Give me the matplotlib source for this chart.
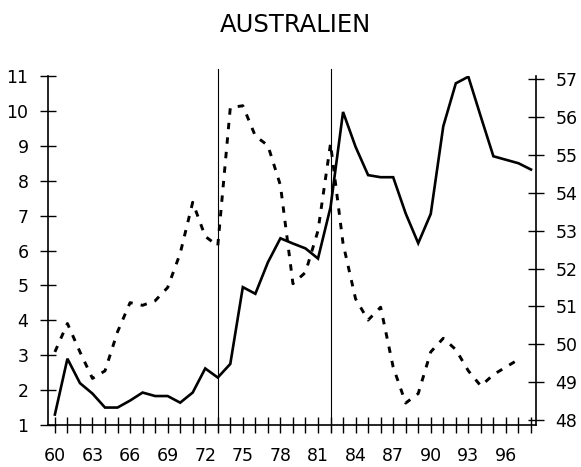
import matplotlib
matplotlib.use("Agg")
import matplotlib.pyplot as plt
import numpy as np

# Data
years_solid = list(range(60, 99))
solid_values = [1.3, 2.9, 2.2, 1.9, 1.5, 1.5, 1.7, 1.93, 1.83, 1.83,
                1.64, 1.93, 2.62, 2.36, 2.75, 4.95, 4.76, 5.66, 6.35, 6.2,
                6.06, 5.77, 7.24, 9.97, 8.97, 8.16, 8.1, 8.1, 7.06, 6.21,
                7.05, 9.56, 10.79, 10.98, 9.83, 8.7, 8.6, 8.5, 8.32]

years_dashed = list(range(60, 98))
dashed_values = [49.8, 50.55, 49.8, 49.1, 49.3, 50.33, 51.1, 51.03, 51.15, 51.5,
                 52.4, 53.75, 52.85, 52.6, 56.25, 56.3, 55.5, 55.25, 54.2, 51.6,
                 51.9, 53.0, 55.3, 52.66, 51.2, 50.64, 50.98, 49.4, 48.45, 48.7,
                 49.8, 50.16, 49.86, 49.3, 48.9, 49.2, 49.4, 49.6]

xtick_labels = ["60", "63", "66", "69", "72", "75", "78", "81", "84", "87", "90", "93", "96"]
left_ticks = list(range(1, 12))
right_ticks = list(range(48, 58))
event_years = [73, 82]
title = "AUSTRALIEN"

W, H = 581, 467
fig = plt.figure(figsize=(W / 100, H / 100), dpi=100)
x0, x1 = 48 / W, 536 / W
y0, y1 = 1 - 425 / H, 1 - 76 / H
ax = fig.add_axes([x0, y0, x1 - x0, y1 - y0])
ax2 = ax.twinx()

ax.plot(years_solid, solid_values, color="black", lw=1.9, solid_joinstyle="miter", zorder=3)
ax2.plot(years_dashed, dashed_values, color="black", lw=2.1, linestyle=(0, (2.2, 2.8)), zorder=3)

for ev in event_years:
    ax.axvline(ev, ymin=-0.02, ymax=1.02, color="black", lw=0.8, clip_on=False, zorder=2)

ax.set_xlim(59.45, 98.4)
ax.set_ylim(1, 11)
ax2.set_ylim(47.87, 57.085)

for a in (ax, ax2):
    a.spines["top"].set_visible(False)
ax.spines["right"].set_visible(False)
ax2.spines["left"].set_visible(False)
ax2.spines["bottom"].set_visible(False)
for sp in ("left", "bottom"):
    ax.spines[sp].set_linewidth(1.2)
ax2.spines["right"].set_linewidth(1.2)

all_years = list(range(60, 99))
ax.set_xticks(all_years)
lab = []
for y in all_years:
    s = str(y)
    lab.append(s if s in xtick_labels else "")
ax.set_xticklabels(lab)
ax.set_yticks(left_ticks)
ax.set_yticklabels([str(v) for v in left_ticks])
ax2.set_yticks(right_ticks)
ax2.set_yticklabels([str(v) for v in right_ticks])

ax.tick_params(axis="x", direction="inout", length=12, width=1.0, pad=10, labelsize=12.5)
ax.tick_params(axis="y", direction="inout", length=12, width=1.0, pad=8, labelsize=12.5)
ax2.tick_params(axis="y", direction="inout", length=12, width=1.0, pad=8, labelsize=12.5)

fig.text(295 / W, 1 - 25.5 / H, title, ha="center", va="center", fontsize=17.5)

fig.savefig("out.png", dpi=100)
